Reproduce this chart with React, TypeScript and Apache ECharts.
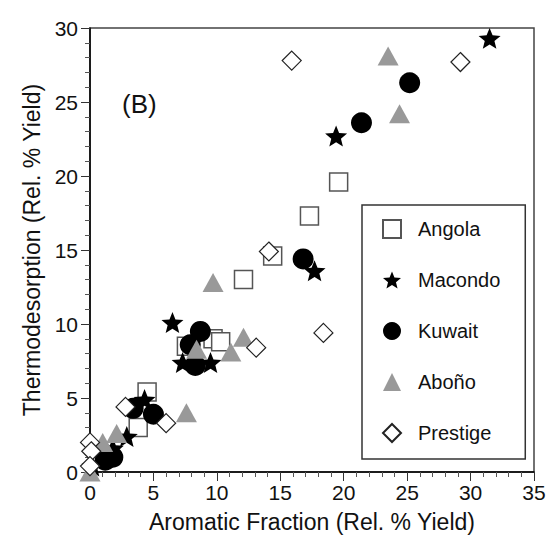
import React, { useEffect, useRef } from "react";
import * as echarts from "echarts";

const seriesNames = ["Angola", "Macondo", "Kuwait", "Aboño", "Prestige"];

const angola: number[][] = [
  [19.6, 19.6], [17.3, 17.3], [14.4, 14.6], [12.1, 13.0], [9.7, 9.0],
  [10.3, 8.8], [7.6, 8.5], [4.5, 5.4], [3.8, 3.0],
];
const macondo: number[][] = [
  [31.5, 29.3], [19.4, 22.7], [17.7, 13.6], [6.5, 10.1], [7.3, 7.4],
  [9.5, 7.4], [4.3, 4.9], [2.9, 2.4], [1.8, 1.6], [0.2, 0.4],
];
const kuwait: number[][] = [
  [25.2, 26.3], [21.4, 23.6], [16.8, 14.4], [8.7, 9.5], [7.9, 8.6],
  [8.3, 7.2], [3.4, 4.3], [5.0, 3.9], [1.2, 0.8], [1.8, 1.0],
];
const abono: number[][] = [
  [23.5, 28.1], [24.4, 24.2], [9.7, 12.8], [12.1, 9.1], [11.1, 8.1],
  [8.4, 8.3], [7.6, 4.0], [2.1, 2.6], [1.0, 2.0], [0.0, 0.0],
];
const prestige: number[][] = [
  [15.9, 27.8], [29.2, 27.7], [14.1, 14.9], [18.4, 9.4], [13.1, 8.4],
  [2.8, 4.4], [6.0, 3.3], [0.0, 2.0], [0.1, 1.4], [0.0, 0.4],
];

const xMin = 0, xMax = 35, yMin = 0, yMax = 30, tickStep = 5;
const xTitle = "Aromatic Fraction (Rel. % Yield)";
const yTitle = "Thermodesorption (Rel. % Yield)";
const panelLabel = "(B)";

const FONT = "'Liberation Sans', Arial, sans-serif";

function starPath(): string {
  const pts: string[] = [];
  for (let i = 0; i < 10; i++) {
    const r = i % 2 === 0 ? 50 : 22;
    const a = -Math.PI / 2 + (i * Math.PI) / 5;
    pts.push(`${(50 + r * Math.cos(a)).toFixed(2)} ${(50 + r * Math.sin(a)).toFixed(2)}`);
  }
  return "path://M" + pts.join(" L") + " Z";
}

export default function App() {
  const ref = useRef<HTMLDivElement>(null);
  useEffect(() => {
    if (!ref.current) return;
    const chart = echarts.init(ref.current, undefined, { renderer: "svg" });
    const star = starPath();
    const axisCommon = {
      type: "value" as const,
      nameLocation: "middle" as const,
      splitLine: { show: false },
      axisLine: { show: true, onZero: false, lineStyle: { color: "#000", width: 1.5 } },
      axisTick: { show: true, inside: false, length: 9, lineStyle: { color: "#333", width: 1 } },
      minorTick: { show: true, splitNumber: 5, length: 5, lineStyle: { color: "#555", width: 1 } },
      axisLabel: { fontSize: 21, color: "#111", fontFamily: FONT },
      nameTextStyle: { fontSize: 23, color: "#111", fontFamily: FONT },
    };
    chart.setOption({
      animation: false,
      backgroundColor: "#fff",
      grid: {
        left: 90, right: 19, top: 28, bottom: 71,
        show: true, borderColor: "#444", borderWidth: 1.5,
      },
      xAxis: {
        ...axisCommon,
        min: xMin, max: xMax, interval: tickStep,
        name: xTitle, nameGap: 38,
        axisLabel: { ...axisCommon.axisLabel, margin: 10 },
      },
      yAxis: {
        ...axisCommon,
        min: yMin, max: yMax, interval: tickStep,
        name: yTitle, nameGap: 45,
        axisLabel: { ...axisCommon.axisLabel, margin: 12 },
      },
      legend: {
        orient: "vertical",
        left: 362, top: 205,
        padding: [14, 25, 16, 20],
        itemWidth: 18, itemHeight: 18, itemGap: 31,
        borderColor: "#333", borderWidth: 1.5,
        backgroundColor: "#fff",
        textStyle: { fontSize: 20, color: "#111", fontFamily: FONT, lineHeight: 20, padding: [0, 0, 0, 12] },
        data: [
          { name: seriesNames[0], icon: "rect" },
          { name: seriesNames[1], icon: star },
          { name: seriesNames[2], icon: "circle" },
          { name: seriesNames[3], icon: "triangle" },
          { name: seriesNames[4], icon: "diamond" },
        ],
      },
      graphic: [
        {
          type: "text", left: 122, top: 91,
          style: { text: panelLabel, fontSize: 26, fill: "#111", fontFamily: FONT },
        },
      ],
      series: [
        {
          name: seriesNames[0], type: "scatter", data: angola, z: 2,
          symbol: "rect", symbolSize: 18,
          itemStyle: { color: "#fff", borderColor: "#555", borderWidth: 1.5, opacity: 1 },
        },
        {
          name: seriesNames[1], type: "scatter", data: macondo, z: 4,
          symbol: star, symbolSize: 22, symbolKeepAspect: true,
          itemStyle: { color: "#000", opacity: 1 },
        },
        {
          name: seriesNames[2], type: "scatter", data: kuwait, z: 3,
          symbol: "circle", symbolSize: 21,
          itemStyle: { color: "#000", opacity: 1 },
        },
        {
          name: seriesNames[3], type: "scatter", data: abono, z: 5,
          symbol: "triangle", symbolSize: [21, 19],
          itemStyle: { color: "#999", opacity: 1 },
        },
        {
          name: seriesNames[4], type: "scatter", data: prestige, z: 6,
          symbol: "diamond", symbolSize: 19,
          itemStyle: { color: "#fff", borderColor: "#222", borderWidth: 1.2, opacity: 1 },
        },
      ],
    });
    return () => chart.dispose();
  }, []);
  return (
    <div
      ref={ref}
      style={{ position: "fixed", left: 0, top: 0, width: 553, height: 543, background: "#fff" }}
    />
  );
}
